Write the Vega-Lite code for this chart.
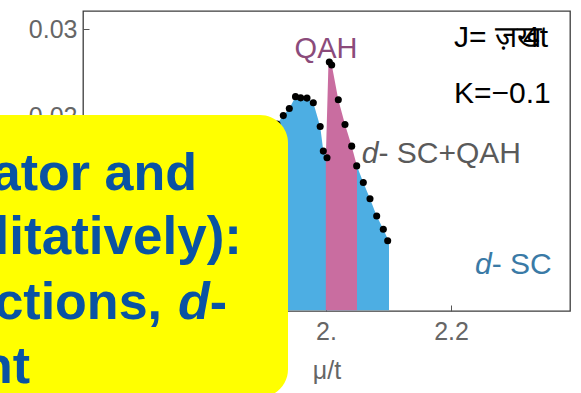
{
  "$schema": "https://vega.github.io/schema/vega-lite/v6.json",
  "width": 487,
  "height": 300,
  "autosize": {"type": "none"},
  "padding": {"left": 83, "top": 11, "right": 11, "bottom": 82},
  "background": "white",
  "config": {
    "font": "Liberation Sans",
    "view": {"stroke": "#3c3c3c", "strokeWidth": 1.3},
    "axis": {
      "grid": false,
      "domain": false,
      "tickSize": -6,
      "tickColor": "#555555",
      "labelFont": "Liberation Sans",
      "labelFontSize": 25,
      "labelColor": "#666666",
      "titleFont": "Liberation Sans",
      "titleFontSize": 25,
      "titleFontWeight": "normal",
      "titleColor": "#666666"
    }
  },
  "datasets": {
    "dots": [
      {"mu": 1.9216, "tc": 0.01917}, {"mu": 1.9317, "tc": 0.02014}, {"mu": 1.9413, "tc": 0.02096},
      {"mu": 1.9512, "tc": 0.02231}, {"mu": 1.9595, "tc": 0.02217}, {"mu": 1.9696, "tc": 0.02214},
      {"mu": 1.9797, "tc": 0.0216}, {"mu": 1.9907, "tc": 0.0189}, {"mu": 1.9957, "tc": 0.01608},
      {"mu": 2.0016, "tc": 0.01533}, {"mu": 2.0053, "tc": 0.02626}, {"mu": 2.0091, "tc": 0.02592},
      {"mu": 2.0197, "tc": 0.02195}, {"mu": 2.0304, "tc": 0.01913}, {"mu": 2.0411, "tc": 0.01665},
      {"mu": 2.0491, "tc": 0.01439}, {"mu": 2.0597, "tc": 0.01249}, {"mu": 2.0704, "tc": 0.01064},
      {"mu": 2.0811, "tc": 0.00867}, {"mu": 2.0917, "tc": 0.00715}, {"mu": 2.0987, "tc": 0.00584}
    ],
    "dsc": [
      {"mu": 1.8464, "tc": 0.00475}, {"mu": 1.8864, "tc": 0.01333}, {"mu": 1.904, "tc": 0.01733},
      {"mu": 1.9216, "tc": 0.01917}, {"mu": 1.9317, "tc": 0.02014}, {"mu": 1.9413, "tc": 0.02096},
      {"mu": 1.9512, "tc": 0.02231}, {"mu": 1.9595, "tc": 0.02217}, {"mu": 1.9696, "tc": 0.02214},
      {"mu": 1.9797, "tc": 0.0216}, {"mu": 1.9907, "tc": 0.0189}, {"mu": 1.9957, "tc": 0.01608},
      {"mu": 2.0016, "tc": 0.01533}, {"mu": 2.0496, "tc": 0.01436}, {"mu": 2.0597, "tc": 0.01249},
      {"mu": 2.0704, "tc": 0.01064}, {"mu": 2.0811, "tc": 0.00867}, {"mu": 2.0917, "tc": 0.00715},
      {"mu": 2.1008, "tc": 0.00572}
    ],
    "qah": [
      {"mu": 1.9997, "tc": 0.01528}, {"mu": 2.004, "tc": 0.02626}, {"mu": 2.0088, "tc": 0.02609},
      {"mu": 2.0197, "tc": 0.02195}, {"mu": 2.0304, "tc": 0.01913}, {"mu": 2.0411, "tc": 0.01665},
      {"mu": 2.0496, "tc": 0.01436}
    ]
  },
  "layer": [
    {
      "data": {"name": "dsc"},
      "mark": {"type": "area", "color": "#4daee3", "opacity": 1},
      "encoding": {
        "x": {"field": "mu", "type": "quantitative", "scale": {"domain": [1.6112, 2.3904], "nice": false, "zero": false},
              "axis": {"title": "μ/t", "values": [1.8, 2.0, 2.2], "labelExpr": "datum.value == 2 ? '2.' : format(datum.value, '.1f')", "labelPadding": 14, "titlePadding": 14}},
        "y": {"field": "tc", "type": "quantitative", "scale": {"domain": [-0.0022, 0.0321], "nice": false, "zero": false},
              "axis": {"title": null, "values": [0, 0.01, 0.02, 0.03], "labelExpr": "datum.value == 0 ? '0' : format(datum.value, '.2f')", "labelPadding": 12}},
        "y2": {"datum": -0.0021}
      }
    },
    {
      "data": {"name": "qah"},
      "mark": {"type": "area", "color": "#c96da0", "opacity": 1},
      "encoding": {
        "x": {"field": "mu", "type": "quantitative", "scale": {"domain": [1.6112, 2.3904], "nice": false, "zero": false}},
        "y": {"field": "tc", "type": "quantitative", "scale": {"domain": [-0.0022, 0.0321], "nice": false, "zero": false}},
        "y2": {"datum": -0.0021}
      }
    },
    {
      "data": {"name": "dots"},
      "mark": {"type": "point", "filled": true, "color": "black", "size": 50, "opacity": 1},
      "encoding": {
        "x": {"field": "mu", "type": "quantitative", "scale": {"domain": [1.6112, 2.3904], "nice": false, "zero": false}},
        "y": {"field": "tc", "type": "quantitative", "scale": {"domain": [-0.0022, 0.0321], "nice": false, "zero": false}}
      }
    },
    {
      "data": {"values": [{}]},
      "mark": {"type": "text", "text": "QAH", "align": "center", "baseline": "alphabetic", "fontSize": 29, "color": "#8b4b7b"},
      "encoding": {
        "x": {"datum": 2.0, "type": "quantitative", "scale": {"domain": [1.6112, 2.3904], "nice": false, "zero": false}},
        "y": {"datum": 0.02668, "type": "quantitative", "scale": {"domain": [-0.0022, 0.0321], "nice": false, "zero": false}}
      }
    },
    {
      "data": {"values": [{}]},
      "mark": {"type": "text", "text": "J= ज़ख", "align": "left", "baseline": "alphabetic", "fontSize": 30, "color": "black"},
      "encoding": {
        "x": {"datum": 2.2048, "type": "quantitative", "scale": {"domain": [1.6112, 2.3904], "nice": false, "zero": false}},
        "y": {"datum": 0.02798, "type": "quantitative", "scale": {"domain": [-0.0022, 0.0321], "nice": false, "zero": false}}
      }
    },
    {
      "data": {"values": [{}]},
      "mark": {"type": "text", "text": "4t", "align": "right", "baseline": "alphabetic", "fontSize": 30, "color": "black"},
      "encoding": {
        "x": {"datum": 2.3552, "type": "quantitative", "scale": {"domain": [1.6112, 2.3904], "nice": false, "zero": false}},
        "y": {"datum": 0.02798, "type": "quantitative", "scale": {"domain": [-0.0022, 0.0321], "nice": false, "zero": false}}
      }
    },
    {
      "data": {"values": [{}]},
      "mark": {"type": "text", "text": "K=−0.1", "align": "left", "baseline": "alphabetic", "fontSize": 30, "color": "black"},
      "encoding": {
        "x": {"datum": 2.2048, "type": "quantitative", "scale": {"domain": [1.6112, 2.3904], "nice": false, "zero": false}},
        "y": {"datum": 0.02153, "type": "quantitative", "scale": {"domain": [-0.0022, 0.0321], "nice": false, "zero": false}}
      }
    },
    {
      "data": {"values": [{}]},
      "mark": {"type": "text", "text": "d", "fontStyle": "italic", "align": "left", "baseline": "alphabetic", "fontSize": 30, "color": "#5a5a5a"},
      "encoding": {
        "x": {"datum": 2.0572, "type": "quantitative", "scale": {"domain": [1.6112, 2.3904], "nice": false, "zero": false}},
        "y": {"datum": 0.01467, "type": "quantitative", "scale": {"domain": [-0.0022, 0.0321], "nice": false, "zero": false}}
      }
    },
    {
      "data": {"values": [{}]},
      "mark": {"type": "text", "text": "- SC+QAH", "align": "left", "baseline": "alphabetic", "fontSize": 30, "color": "#5a5a5a"},
      "encoding": {
        "x": {"datum": 2.0839, "type": "quantitative", "scale": {"domain": [1.6112, 2.3904], "nice": false, "zero": false}},
        "y": {"datum": 0.01467, "type": "quantitative", "scale": {"domain": [-0.0022, 0.0321], "nice": false, "zero": false}}
      }
    },
    {
      "data": {"values": [{}]},
      "mark": {"type": "text", "text": "d", "fontStyle": "italic", "align": "left", "baseline": "alphabetic", "fontSize": 30, "color": "#3a7aa6"},
      "encoding": {
        "x": {"datum": 2.2384, "type": "quantitative", "scale": {"domain": [1.6112, 2.3904], "nice": false, "zero": false}},
        "y": {"datum": 0.00208, "type": "quantitative", "scale": {"domain": [-0.0022, 0.0321], "nice": false, "zero": false}}
      }
    },
    {
      "data": {"values": [{}]},
      "mark": {"type": "text", "text": "- SC", "align": "left", "baseline": "alphabetic", "fontSize": 30, "color": "#3a7aa6"},
      "encoding": {
        "x": {"datum": 2.2651, "type": "quantitative", "scale": {"domain": [1.6112, 2.3904], "nice": false, "zero": false}},
        "y": {"datum": 0.00208, "type": "quantitative", "scale": {"domain": [-0.0022, 0.0321], "nice": false, "zero": false}}
      }
    },
    {
      "data": {"values": [{}]},
      "mark": {"type": "rect", "color": "#ffff00", "opacity": 1, "cornerRadius": 28},
      "encoding": {
        "x": {"datum": 1.40, "type": "quantitative", "scale": {"domain": [1.6112, 2.3904], "nice": false, "zero": false}},
        "x2": {"datum": 1.9392},
        "y": {"datum": 0.0202, "type": "quantitative", "scale": {"domain": [-0.0022, 0.0321], "nice": false, "zero": false}},
        "y2": {"datum": -0.01207}
      }
    },
    {
      "data": {"values": [{}]},
      "mark": {"type": "text", "text": "ator and", "align": "right", "baseline": "alphabetic", "fontSize": 52, "fontWeight": "bold", "color": "#0953a3"},
      "encoding": {
        "x": {"datum": 1.7936, "type": "quantitative", "scale": {"domain": [1.6112, 2.3904], "nice": false, "zero": false}},
        "y": {"datum": 0.01161, "type": "quantitative", "scale": {"domain": [-0.0022, 0.0321], "nice": false, "zero": false}}
      }
    },
    {
      "data": {"values": [{}]},
      "mark": {"type": "text", "text": "litatively):", "align": "right", "baseline": "alphabetic", "fontSize": 53, "fontWeight": "bold", "color": "#0953a3"},
      "encoding": {
        "x": {"datum": 1.8656, "type": "quantitative", "scale": {"domain": [1.6112, 2.3904], "nice": false, "zero": false}},
        "y": {"datum": 0.00429, "type": "quantitative", "scale": {"domain": [-0.0022, 0.0321], "nice": false, "zero": false}}
      }
    },
    {
      "data": {"values": [{}]},
      "mark": {"type": "text", "text": "ctions,", "align": "right", "baseline": "alphabetic", "fontSize": 52, "fontWeight": "bold", "color": "#0953a3"},
      "encoding": {
        "x": {"datum": 1.7376, "type": "quantitative", "scale": {"domain": [1.6112, 2.3904], "nice": false, "zero": false}},
        "y": {"datum": -0.00307, "type": "quantitative", "scale": {"domain": [-0.0022, 0.0321], "nice": false, "zero": false}}
      }
    },
    {
      "data": {"values": [{}]},
      "mark": {"type": "text", "text": "d", "align": "right", "baseline": "alphabetic", "fontSize": 52, "fontWeight": "bold", "fontStyle": "italic", "color": "#0953a3"},
      "encoding": {
        "x": {"datum": 1.8139, "type": "quantitative", "scale": {"domain": [1.6112, 2.3904], "nice": false, "zero": false}},
        "y": {"datum": -0.00307, "type": "quantitative", "scale": {"domain": [-0.0022, 0.0321], "nice": false, "zero": false}}
      }
    },
    {
      "data": {"values": [{}]},
      "mark": {"type": "text", "text": "-", "align": "right", "baseline": "alphabetic", "fontSize": 52, "fontWeight": "bold", "color": "#0953a3"},
      "encoding": {
        "x": {"datum": 1.8416, "type": "quantitative", "scale": {"domain": [1.6112, 2.3904], "nice": false, "zero": false}},
        "y": {"datum": -0.00307, "type": "quantitative", "scale": {"domain": [-0.0022, 0.0321], "nice": false, "zero": false}}
      }
    },
    {
      "data": {"values": [{}]},
      "mark": {"type": "text", "text": "nt", "align": "right", "baseline": "alphabetic", "fontSize": 52, "fontWeight": "bold", "color": "#0953a3"},
      "encoding": {
        "x": {"datum": 1.5264, "type": "quantitative", "scale": {"domain": [1.6112, 2.3904], "nice": false, "zero": false}},
        "y": {"datum": -0.01044, "type": "quantitative", "scale": {"domain": [-0.0022, 0.0321], "nice": false, "zero": false}}
      }
    }
  ]
}
